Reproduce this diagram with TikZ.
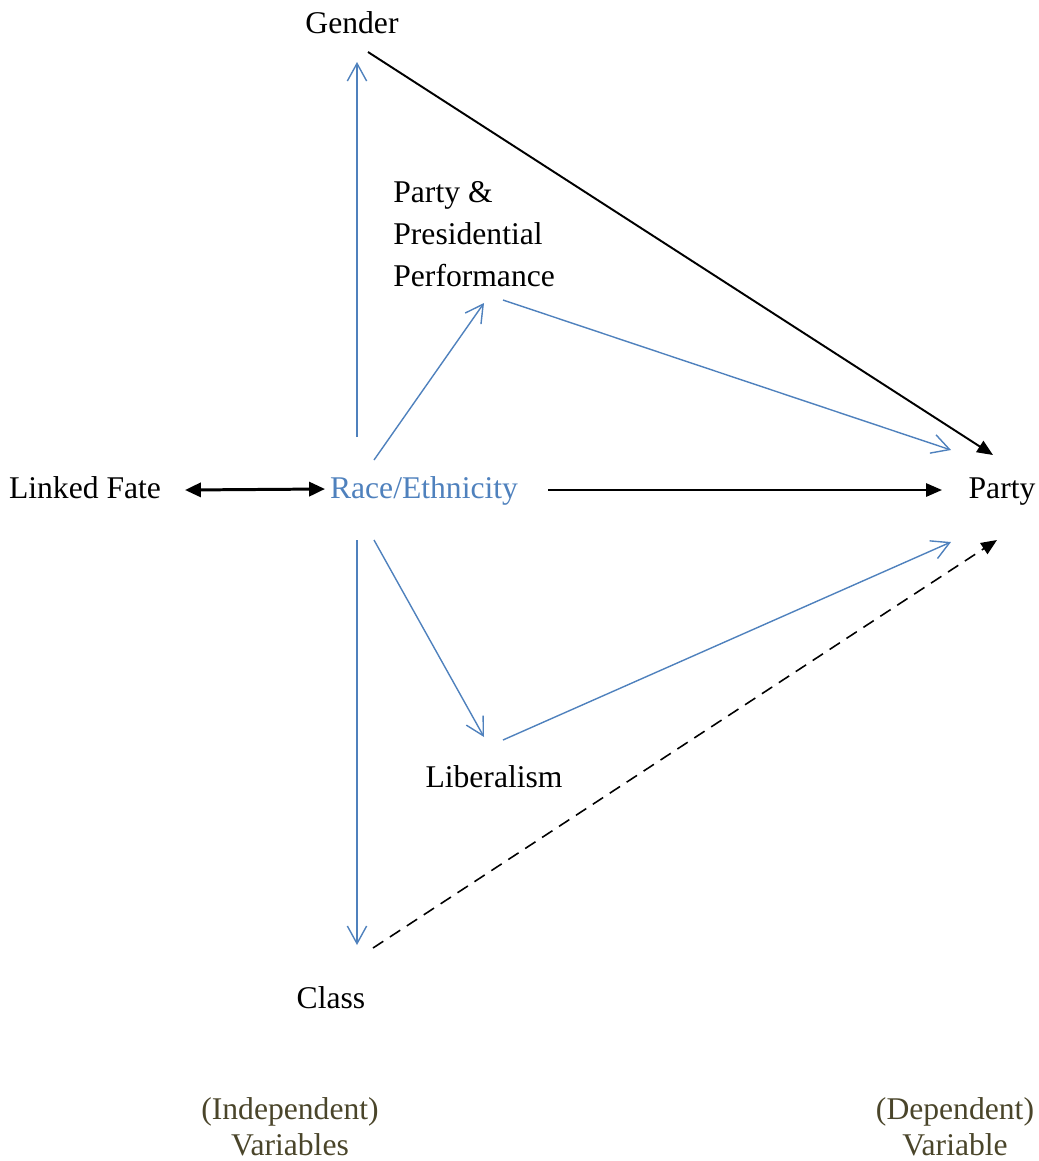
\documentclass[tikz,border=0pt]{standalone}
\usepackage{fontspec}
\setmainfont{Liberation Serif}
\usetikzlibrary{calc, arrows.meta}
\definecolor{raceblue}{RGB}{79,129,189}
\definecolor{notebrown}{RGB}{74,69,42}

\begin{document}
\begin{tikzpicture}[x=0.02cm, y=-0.02cm,
      font=\fontsize{18}{23.8}\selectfont, inner sep=0pt,
      var/.style={anchor=base},
      link/.style={-{Triangle[length=9pt,width=7.5pt]}, line width=1.1pt},
      blink/.style={-{Straight Barb[length=10pt,width=11pt]}, draw=raceblue, line width=0.8pt},
      note/.style={anchor=base, align=center, text=notebrown,
        font=\fontsize{18}{20.4}\selectfont}]
      \useasboundingbox (0,0) rectangle (1039,1161);
      % variables
      \node[var] (gender) at (352,33) {Gender};
      \node[var, anchor=base west, align=left] (perf) at (393,286) {Party \&\\Presidential\\Performance};
      \node[var] (fate) at (85,498) {Linked Fate};
      \node[var, text=raceblue] (race) at (424,498) {Race/Ethnicity};
      \node[var] (party) at (1002,498) {Party};
      \node[var] (lib) at (494,787) {Liberalism};
      \node[var] (class) at (331,1008) {Class};
      % legend
      \node[note] (indep) at (290,1155) {(Independent)\\Variables};
      \node[note] (dep) at (955,1155) {(Dependent)\\Variable};
      % black paths
      \draw[link, {Triangle[length=9pt,width=8pt]}-{Triangle[length=9pt,width=8pt]}, line width=1.7pt]
        ($(fate.base)+(100,-8)$) -- ($(race.base)+(-99,-9)$);
      \draw[link] ($(race.base)+(124,-8)$) -- ($(party.base)+(-60,-8)$);
      \draw[link] ($(gender.base)+(16,19)$) -- ($(party.base)+(-9,-43)$);
      \draw[link, line width=0.9pt, dash pattern=on 7pt off 4.5pt]
        ($(class.base)+(42,-60)$) -- ($(party.base)+(-5,42)$);
      % race paths
      \draw[blink] ($(race.base)+(-67,-61)$) -- ($(gender.base)+(5,29)$);
      \draw[blink] ($(race.base)+(-67,42)$) -- ($(class.base)+(26,-63)$);
      \draw[blink] ($(race.base)+(-50,-38)$) -- ($(perf.base west)+(91,17)$);
      \draw[blink] ($(perf.base west)+(110,14)$) -- ($(party.base)+(-51,-48)$);
      \draw[blink] ($(race.base)+(-50,42)$) -- ($(lib.base)+(-10,-50)$);
      \draw[blink] ($(lib.base)+(9,-47)$) -- ($(party.base)+(-51,44)$);
\end{tikzpicture}
\end{document}
